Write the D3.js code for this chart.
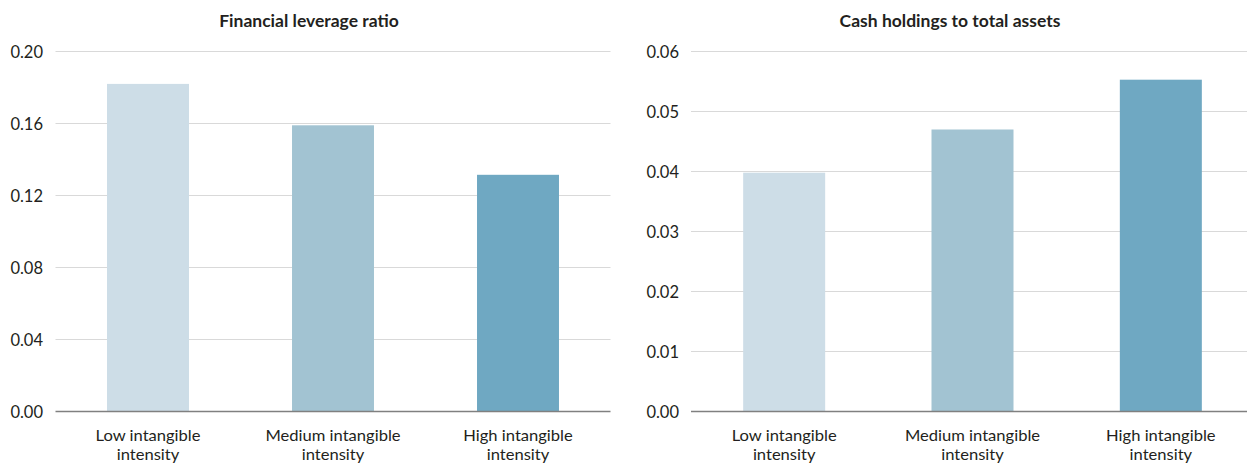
<!DOCTYPE html>
<html>
<head>
<meta charset="utf-8">
<script src="https://cdn.jsdelivr.net/npm/d3@7"></script>
<style>
  html, body { margin: 0; padding: 0; background: #fff; }
  svg { display: block; }
  text { font-family: Lato, "Noto Sans", sans-serif; fill: #231f20; }
</style>
</head>
<body>
<svg id="chart" width="1247" height="463"></svg>
<script>
// ---- data ----
const categories = ["Low intangible intensity", "Medium intangible intensity", "High intangible intensity"];
const categoryLines = [["Low intangible", "intensity"], ["Medium intangible", "intensity"], ["High intangible", "intensity"]];
const leverageValues = [0.182, 0.159, 0.1315];
const cashValues = [0.0398, 0.047, 0.0553];
const leverageTicks = [0, 0.04, 0.08, 0.12, 0.16, 0.20];
const cashTicks = [0, 0.01, 0.02, 0.03, 0.04, 0.05, 0.06];
const barColors = ["#cddde7", "#a2c3d2", "#6fa8c2"];
const titles = ["Financial leverage ratio", "Cash holdings to total assets"];

const svg = d3.select("#chart");

function panel(cfg) {
  const g = svg.append("g");
  const x = d3.scaleBand().domain(categories).range(cfg.xRange)
    .paddingInner(cfg.pad).paddingOuter(cfg.pad / 2);
  const y = d3.scaleLinear().domain([0, cfg.max]).range([411.5, 51.5]);

  // gridlines
  g.append("g").selectAll("line").data(cfg.ticks.filter(t => t > 0)).join("line")
    .attr("x1", cfg.gridX[0]).attr("x2", cfg.gridX[1])
    .attr("y1", d => y(d)).attr("y2", d => y(d))
    .attr("stroke", "#d9d9d9").attr("stroke-width", 1);

  // bars
  g.append("g").selectAll("rect").data(cfg.values).join("rect")
    .attr("x", (d, i) => x(categories[i]))
    .attr("width", x.bandwidth())
    .attr("y", d => y(d))
    .attr("height", d => y(0) - y(d))
    .attr("fill", (d, i) => barColors[i]);

  // baseline
  g.append("line").attr("x1", cfg.gridX[0]).attr("x2", cfg.gridX[1])
    .attr("y1", y(0)).attr("y2", y(0)).attr("stroke", "#808080").attr("stroke-width", 1.3);

  // y axis labels
  const yAxis = d3.axisLeft(y).tickValues(cfg.ticks).tickFormat(d3.format(".2f")).tickSize(0).tickPadding(0);
  const ya = g.append("g").attr("transform", `translate(${cfg.labelX},0)`).call(yAxis);
  ya.select(".domain").remove();
  ya.selectAll("text").attr("font-size", 16.5).attr("font-family", "Lato, 'Noto Sans', sans-serif").attr("fill", "#231f20").attr("dy", "0.35em");

  // x labels (two separate lines)
  const lineData = [];
  categories.forEach((c, i) => categoryLines[i].forEach((ln, j) => lineData.push({ c, ln, j })));
  g.append("g").selectAll("text").data(lineData).join("text")
    .attr("text-anchor", "middle")
    .attr("font-size", 15.2)
    .attr("transform", d => `translate(${x(d.c) + x.bandwidth() / 2},${d.j === 0 ? 441 : 459.5}) scale(1.09,1)`)
    .text(d => d.ln);

  // title
  g.append("text").attr("x", cfg.titleX).attr("y", 27).attr("text-anchor", "middle")
    .attr("font-size", 17.5).attr("font-weight", "bold").text(cfg.title);
}

panel({ xRange: [55.5, 610.5], pad: 0.557, max: 0.20, ticks: leverageTicks, values: leverageValues,
        gridX: [55.5, 610.5], labelX: 43, titleX: 309, title: titles[0] });
panel({ xRange: [690, 1255], pad: 0.5646, max: 0.06, ticks: cashTicks, values: cashValues,
        gridX: [691, 1247], labelX: 679, titleX: 950, title: titles[1] });
</script>
</body>
</html>
